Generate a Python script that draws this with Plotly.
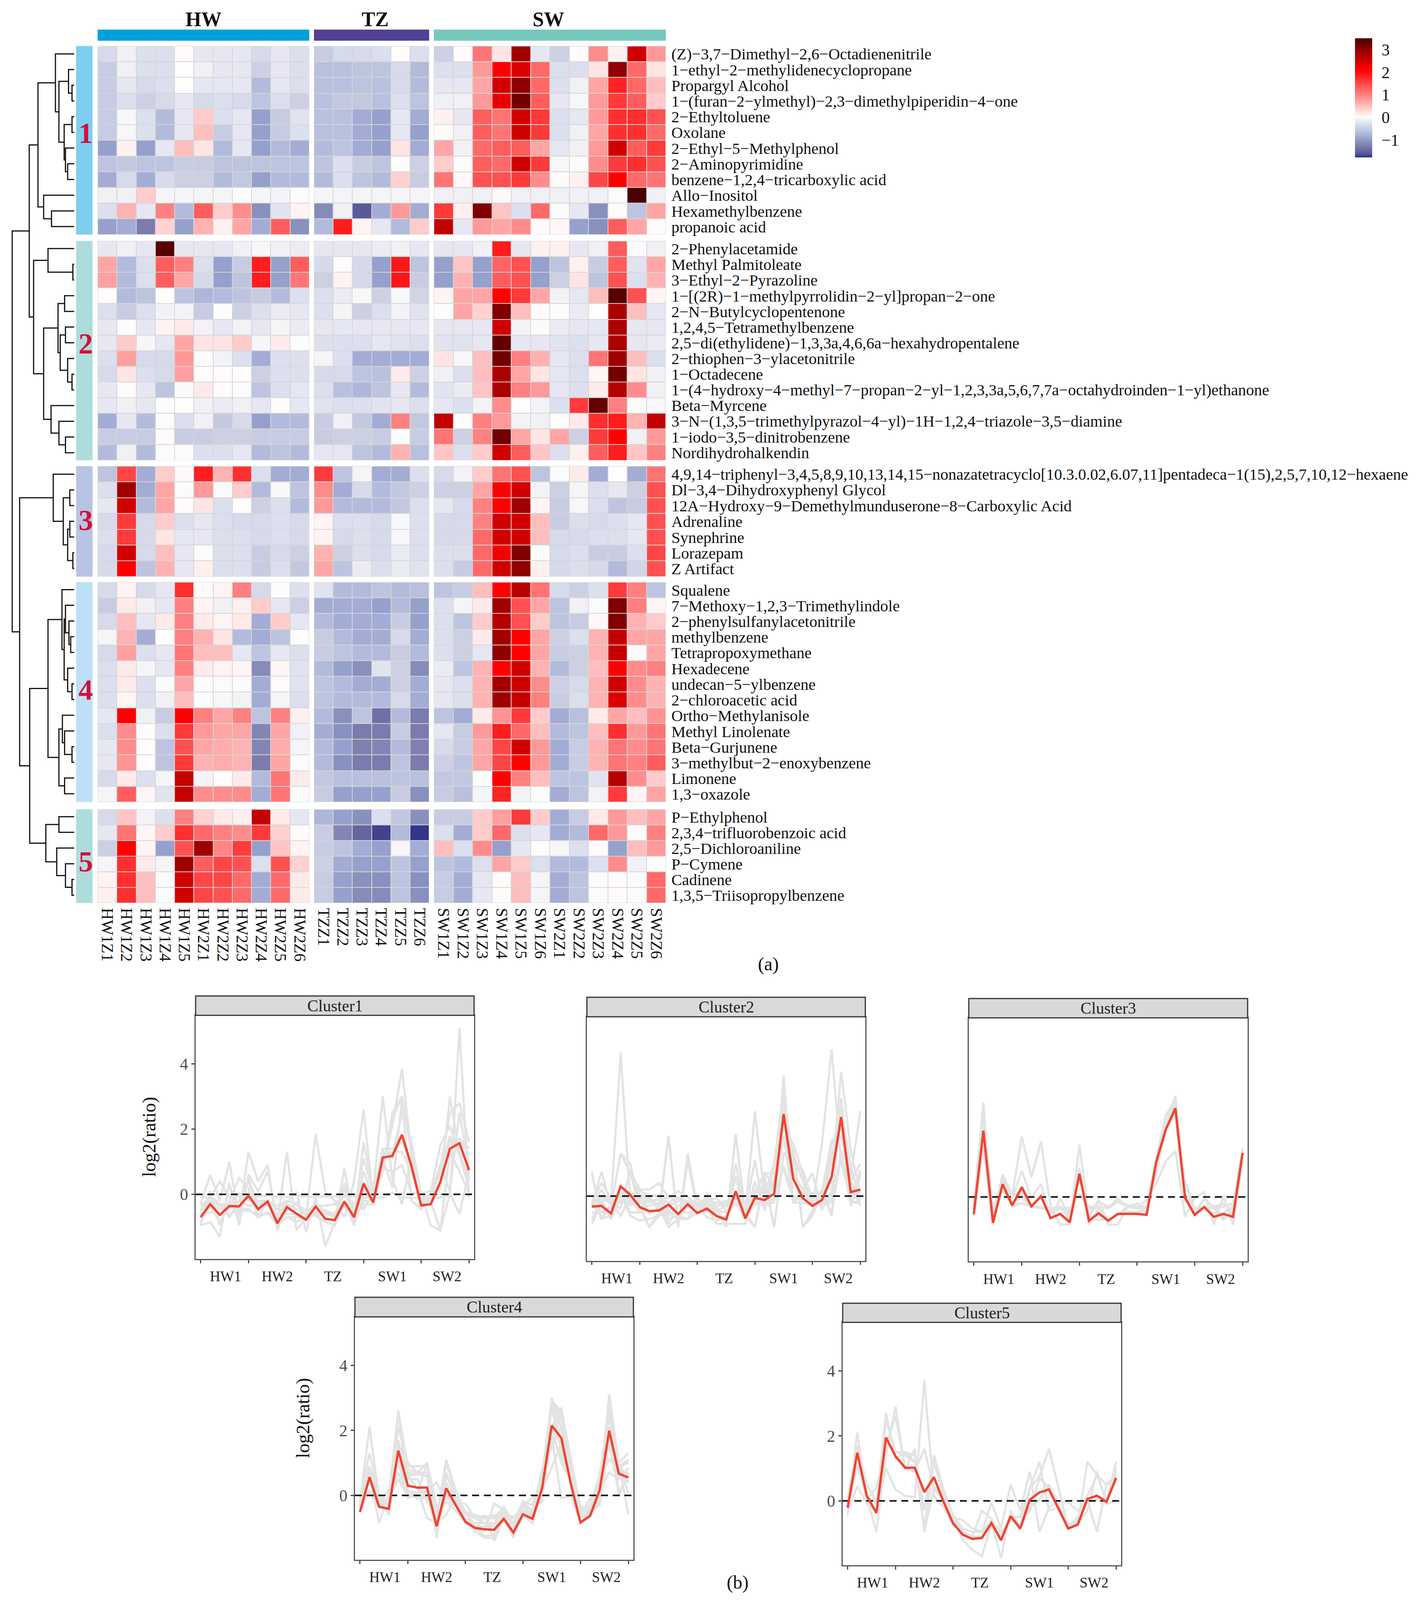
import plotly.graph_objects as go

W, H = 3639, 4381
FONT = "Liberation Serif"

hw_cols = ["HW1Z1","HW1Z2","HW1Z3","HW1Z4","HW1Z5","HW2Z1","HW2Z2","HW2Z3","HW2Z4","HW2Z5","HW2Z6"]
tz_cols = ["TZZ1","TZZ2","TZZ3","TZZ4","TZZ5","TZZ6"]
sw_cols = ["SW1Z1","SW1Z2","SW1Z3","SW1Z4","SW1Z5","SW1Z6","SW2Z1","SW2Z2","SW2Z3","SW2Z4","SW2Z5","SW2Z6"]

labels1 = ["(Z)−3,7−Dimethyl−2,6−Octadienenitrile","1−ethyl−2−methylidenecyclopropane","Propargyl Alcohol",
 "1−(furan−2−ylmethyl)−2,3−dimethylpiperidin−4−one","2−Ethyltoluene","Oxolane","2−Ethyl−5−Methylphenol",
 "2−Aminopyrimidine","benzene−1,2,4−tricarboxylic acid","Allo−Inositol","Hexamethylbenzene","propanoic acid"]
labels2 = ["2−Phenylacetamide","Methyl Palmitoleate","3−Ethyl−2−Pyrazoline","1−[(2R)−1−methylpyrrolidin−2−yl]propan−2−one",
 "2−N−Butylcyclopentenone","1,2,4,5−Tetramethylbenzene","2,5−di(ethylidene)−1,3,3a,4,6,6a−hexahydropentalene",
 "2−thiophen−3−ylacetonitrile","1−Octadecene","1−(4−hydroxy−4−methyl−7−propan−2−yl−1,2,3,3a,5,6,7,7a−octahydroinden−1−yl)ethanone",
 "Beta−Myrcene","3−N−(1,3,5−trimethylpyrazol−4−yl)−1H−1,2,4−triazole−3,5−diamine","1−iodo−3,5−dinitrobenzene","Nordihydrohalkendin"]
labels3 = ["4,9,14−triphenyl−3,4,5,8,9,10,13,14,15−nonazatetracyclo[10.3.0.02,6.07,11]pentadeca−1(15),2,5,7,10,12−hexaene",
 "Dl−3,4−Dihydroxyphenyl Glycol","12A−Hydroxy−9−Demethylmunduserone−8−Carboxylic Acid","Adrenaline","Synephrine","Lorazepam","Z Artifact"]
labels4 = ["Squalene","7−Methoxy−1,2,3−Trimethylindole","2−phenylsulfanylacetonitrile","methylbenzene","Tetrapropoxymethane",
 "Hexadecene","undecan−5−ylbenzene","2−chloroacetic acid","Ortho−Methylanisole","Methyl Linolenate","Beta−Gurjunene",
 "3−methylbut−2−enoxybenzene","Limonene","1,3−oxazole"]
labels5 = ["P−Ethylphenol","2,3,4−trifluorobenzoic acid","2,5−Dichloroaniline","P−Cymene","Cadinene","1,3,5−Triisopropylbenzene"]

cluster1 = [
 [-.35,-.1,-.3,-.3,.03,-.2,-.2,-.2,-.35,-.2,-.3, -.5,-.35,-.35,-.3,.02,-.3, -.45,.03,1.1,.2,2.9,-.2,-.45,.03,.9,.1,2.5,.8],
 [-.5,-.1,-.3,-.3,.02,-.1,-.2,-.2,-.45,-.2,-.3, -.65,-.65,-.6,-.6,-.35,-.7, -.3,-.3,.8,2.1,2.4,1.2,-.3,-.3,.2,3.0,1.2,.2],
 [-.5,-.2,-.35,-.3,.02,-.2,-.2,-.2,-.7,-.2,-.3, -.65,-.65,-.6,-.65,-.35,-.7, -.2,-.2,.7,2.5,3.0,1.2,-.3,-.1,.7,1.8,1.2,.5],
 [-.5,-.3,-.45,-.35,-.2,-.35,-.3,-.35,-.6,-.3,-.45, -.65,-.55,-.55,-.65,-.3,-.6, -.1,-.1,.8,2.3,3.2,1.3,-.2,-.05,.8,1.6,1.3,.4],
 [-.5,-.05,-.3,-.7,-.2,.4,-.3,-.2,-.95,-.5,-.25, -.65,-.65,-.85,-.95,-.2,-.85, .1,-.2,1.3,1.1,2.5,1.6,-.3,-.2,.8,1.7,1.7,1.4],
 [-.5,-.05,-.3,-.7,-.2,.5,-.5,-.2,-.95,-.5,-.3, -.65,-.65,-.85,-.95,-.2,-.95, .03,-.1,1.3,1.1,2.5,1.6,-.3,-.1,.7,1.7,1.7,1.2],
 [-.95,.1,-.95,-.2,.5,.2,-.7,-.2,-.95,-.7,-.85, -.7,-.6,-.85,-.95,.2,-.85, .7,-.1,1.2,1.3,1.3,.7,-.2,-.1,.8,2.5,1.3,1.6],
 [-.6,-.55,-.6,-.6,-.5,-.5,-.6,-.6,-.6,-.6,-.6, -.6,-.3,-.5,-.6,.02,-.45, .4,-.02,1.3,1.2,2.5,1.6,-.05,-.03,.9,1.6,1.7,1.4],
 [-.85,-.35,-.85,-.35,-.45,-.45,-.7,-.55,-.95,-.7,-.7, -.7,-.3,-.6,-.7,.35,-.5, 1.1,.05,1.4,1.4,1.6,.9,.03,.1,1.5,2.1,1.2,1.1],
 [-.1,-.1,.4,-.07,-.07,-.07,-.07,-.03,-.07,-.08,-.02, -.07,-.07,-.07,-.07,-.07,-.07, -.1,-.1,-.1,.05,-.1,-.1,-.1,-.1,-.1,-.03,3.5,-.1],
 [-.3,.6,-.2,1.0,-.7,1.3,.4,.9,-1.1,-.25,.08, -1.15,-.1,-1.6,-.85,.8,-.85, 1.6,.1,3.1,.45,-.3,1.2,-.02,-.2,-1.1,.03,-.6,.7],
 [-.95,-.85,-1.3,.35,-.95,.6,.1,.7,-.85,1.3,-1.1, -.7,1.85,.08,-.2,-.7,.4, 2.6,-.2,.8,.7,.9,.03,.06,-.95,-1.1,1.3,.7,.03],
]
cluster2 = [
 [-.2,-.1,-.2,3.4,-.2,-.2,-.2,-.1,-.05,-.1,-.15, -.2,-.2,-.2,-.15,-.1,-.2, -.2,-.2,-.1,1.85,-.2,.1,.1,-.2,-.1,1.3,-.03,-.1],
 [.7,-.7,-.3,1.3,1.0,-.3,-.95,-.5,1.85,-.95,1.3, -.35,.03,-.35,-.95,1.9,-.6, -.95,.45,-.95,1.25,1.4,-.95,-.6,.1,-.5,1.3,-.25,.7],
 [.75,-.7,-.3,1.3,.7,-.35,-.95,-.6,1.85,-.95,1.1, -.45,.08,-.35,-.95,1.9,-.5, -.95,.6,-.95,1.3,1.4,-.95,-.45,.2,-.6,1.4,-.3,.6],
 [.03,-.7,-.6,.02,-.6,-.75,-.7,-.6,-.5,-.7,-.3, -.3,-.15,-.05,-.45,-.05,-.4, .08,.7,.7,2.1,1.6,.7,-.08,-.2,.5,3.4,1.4,.08],
 [-.3,-.5,-.3,-.08,-.08,-.5,-.02,-.45,-.3,-.15,-.2, -.3,-.07,-.45,-.3,-.08,-.25, .02,.7,.35,3.1,.5,.03,-.02,-.15,.02,2.8,.5,-.2],
 [-.2,-.02,-.2,.08,.15,-.08,-.2,-.08,-.2,-.07,-.15, -.2,-.2,-.2,-.2,-.2,-.2, -.2,-.2,-.2,2.5,-.08,-.03,-.15,-.2,-.2,2.8,-.2,-.2],
 [-.2,.4,-.06,-.2,.7,.2,.2,.4,-.06,.15,-.02, -.3,-.3,-.3,-.2,-.25,-.3, -.25,-.25,-.2,3.3,-.2,-.2,-.25,-.3,-.2,2.8,-.2,-.15],
 [-.3,.75,-.35,-.35,.8,-.03,-.08,-.3,-.85,-.3,-.3, -.07,-.3,-.85,-.85,-.85,-.85, .2,-.05,.5,3.2,1.0,.6,-.2,-.3,1.1,2.9,.5,-.3],
 [-.35,.2,-.3,-.35,.75,.02,.03,.02,-.45,-.3,-.3, -.35,-.35,-.6,-.65,.15,-.45, -.1,-.3,.5,2.8,.7,.2,-.2,-.3,.06,3.2,.2,-.1],
 [-.2,.03,-.2,-.6,-.03,.15,.03,-.02,-.6,-.3,-.2, -.3,-.65,-.75,-.6,-.2,-.7, -.25,-.15,.45,2.8,1.0,.8,-.2,-.3,.15,2.7,.9,-.1],
 [-.2,-.1,-.2,-.02,.02,-.1,-.15,-.1,-.2,-.02,-.2, -.25,-.3,-.3,-.25,-.2,-.3, -.2,-.3,-.08,.9,.02,-.08,-.3,1.6,3.3,1.0,-.03,-.05],
 [-.85,-.2,-.7,-.03,-.3,-.1,-.55,-.35,-.95,-.7,-.7, -.5,-.1,-.55,-.85,1.0,-.55, 2.6,.03,1.0,.8,-.08,-.1,.02,.15,1.7,1.85,.6,2.6],
 [-.5,-.5,-.5,.03,-.5,-.5,-.45,-.45,-.5,-.5,-.5, -.5,-.45,-.45,-.5,-.02,-.5, 1.1,-.45,1.0,3.2,.7,.2,.7,-.45,1.6,2.1,-.1,.8],
 [-.7,-.1,-.7,-.03,-.02,-.3,-.3,-.2,-.7,-.6,-.7, -.2,-.2,-.6,-.7,.6,-.65, .45,-.3,.4,2.5,1.3,.45,-.3,.1,1.3,1.85,.45,1.0],
]
cluster3 = [
 [-.6,1.5,-.85,.4,.05,1.85,.6,1.7,-.3,-.85,-.85, 1.6,-.6,-.07,-.85,-.85,-.3, -.35,-.08,.4,1.1,1.4,-.6,-.03,.15,-.85,.02,-.85,1.1],
 [-.3,2.9,-.85,.7,-.03,.8,-.03,.4,-.7,-.05,-.6, .9,-.85,-.35,-.7,-.55,-.45, -.45,-.45,.7,2.1,2.5,-.08,-.45,-.07,-.3,-.2,-.45,1.4],
 [-.2,2.5,-.7,.7,.03,.2,-.3,.02,-.45,-.3,-.7, .8,-.7,-.7,-.7,-.55,-.3, -.2,-.35,1.0,2.1,2.9,.08,-.5,-.05,-.3,-.6,-.5,1.4],
 [-.35,1.6,-.35,.4,-.3,-.2,-.3,-.35,-.35,-.3,-.35, .08,-.3,-.3,-.35,-.05,-.3, -.35,-.35,1.0,2.5,2.5,.5,-.5,-.3,-.35,-.3,-.2,1.4],
 [-.3,1.6,-.35,.2,-.2,-.2,-.3,-.3,-.35,-.3,-.35, .08,-.35,-.3,-.35,-.05,-.3, -.35,-.35,1.2,2.5,2.5,.5,-.35,-.35,-.3,-.3,-.2,1.4],
 [-.35,2.5,-.35,.5,-.2,-.03,-.3,-.3,-.5,-.35,-.45, .6,-.45,-.3,-.35,-.15,-.3, -.3,-.3,1.2,2.2,3.1,-.02,-.35,-.3,-.5,-.5,-.3,1.5],
 [-.35,2.1,-.6,.6,-.2,.1,-.3,-.3,-.5,-.3,-.55, .7,-.6,-.15,-.3,-.15,-.25, -.3,-.5,1.2,2.5,3.0,.1,-.35,-.3,-.35,-.7,-.4,1.4],
]
cluster4 = [
 [-.35,.08,-.35,-.2,1.7,.03,.08,1.0,-.35,-.02,-.3, -.25,-.7,-.7,-.6,-.7,-.65, -.6,-.5,.5,2.1,2.7,1.1,-.35,-.45,-.3,1.6,1.0,-.6],
 [-.5,.15,-.1,-.2,1.0,.08,-.1,.1,.4,-.2,-.45, -.85,-.85,-.85,-.95,-.7,-.95, -.3,-.07,.15,2.9,1.4,.7,-.6,-.1,-.03,3.1,1.0,.07],
 [-.35,.5,-.2,.15,1.0,.15,.08,.15,-.85,.4,-.2, -.7,-.85,-.85,-.85,-.5,-.95, -.3,-.6,.4,2.7,1.4,.4,-.6,-.5,.06,3.1,.6,.4],
 [-.07,.6,-.85,.02,1.0,.6,.2,-.7,-.85,-.6,.02, -.5,-.7,-.85,-.85,-.35,-.85, -.3,-.45,.15,2.9,2.1,.7,-.45,-.3,.6,2.6,.7,.7],
 [-.35,.75,-.3,-.2,1.1,.5,.5,-.2,-.6,-.2,-.3, -.5,-.6,-.7,-.7,-.5,-.7, -.3,-.45,-.2,3.0,2.1,.7,-.5,-.45,.6,2.6,-.03,.7],
 [-.3,.15,-.07,-.2,1.0,.15,.08,.07,-1.15,.07,-.25, -.7,-.95,-1.1,-.25,-.45,-1.15, -.15,-.6,.6,2.1,2.5,.6,-.7,-.45,.5,2.1,.9,1.0],
 [-.3,.15,-.3,-.03,.7,-.02,-.03,-.02,-.85,.03,-.25, -.6,-.7,-.85,-.85,-.45,-.85, -.2,-.3,.6,2.9,2.5,.9,-.45,-.35,.6,2.5,.9,.6],
 [-.3,.07,-.3,-.1,.5,-.02,-.05,-.08,-.85,-.07,-.3, -.6,-.7,-.7,-.7,-.35,-.85, -.2,-.3,.6,2.9,2.6,1.0,-.5,-.3,.6,2.4,.9,.6],
 [-.2,2.1,-.1,-.5,2.1,1.0,.7,1.0,-.6,1.0,.1, -.7,-1.1,-.6,-1.4,-.7,-1.3, -.6,-.85,.15,.85,1.6,.4,-.85,-.65,.15,.7,.5,.85],
 [-.3,.9,-.02,-.3,1.6,.8,.7,.7,-1.2,.7,-.1, -.85,-1.1,-1.3,-1.3,-.5,-1.3, -.2,-.5,.8,1.85,1.2,.5,-.7,-.6,.5,1.7,.8,1.1],
 [-.2,.9,.02,-.6,1.4,.7,.65,.6,-1.2,.65,-.07, -.7,-.95,-1.25,-1.2,-.7,-1.25, -.35,-.5,.7,1.5,2.5,.8,-.85,-.5,.6,1.1,.9,1.1],
 [-.2,.85,.02,-.6,1.6,.6,.65,.6,-1.3,.7,-.03, -.7,-1.1,-1.3,-1.3,-.6,-1.3, -.45,-.6,.7,1.5,2.1,.8,-.85,-.5,.6,1.1,1.0,1.3],
 [-.35,.15,-.3,-.07,2.6,-.08,.02,.15,-.7,1.1,.15, -.55,-.65,-.65,-.65,-.6,-.65, -.55,-.55,.02,2.1,1.0,.5,-.6,-.6,-.25,2.7,.9,.4],
 [-.07,1.3,.07,-.25,2.6,.9,.9,.9,-.85,1.1,.03, -.5,-.95,-.95,-.95,-.5,-1.1, -.5,-.65,-.07,1.8,-.08,-.02,-.85,-.6,-.08,1.6,.08,.7],
]
cluster5 = [
 [-.35,.45,-.08,-.3,1.0,.35,.15,.12,2.6,.15,-.2, -.75,-.95,-1.1,-.3,-.55,-1.1, -.5,-.5,.4,.75,1.6,.4,-.85,-.5,.15,.8,.5,.7],
 [-.2,1.1,.06,.4,1.7,1.2,1.0,.9,1.6,.35,.03, -.5,-1.2,-1.5,-1.7,-.7,-1.75, -.3,-.85,.4,1.2,-.3,-.2,-.85,-.7,1.2,.8,-.03,1.0],
 [-.45,2.1,.08,-.95,1.4,2.9,.95,1.6,-.95,.45,.08, -.5,-.6,-.85,-.95,-.05,-.85, .5,-.3,.9,-.95,-.2,-.02,-.05,-.3,.02,-.95,.5,.8],
 [-.07,1.7,.15,-.07,2.9,1.3,1.5,1.4,-.3,1.4,.35, -.45,-.85,-.95,-.95,-.6,-.95, -.6,-.7,-.3,.7,.4,-.3,-.7,-.7,-.3,.9,-.1,.02],
 [.08,1.7,.5,-.03,2.5,1.5,1.5,1.2,-.85,1.2,.15, -.5,-.95,-1.1,-1.1,-.6,-1.1, -.5,-.85,-.2,.03,.5,-.07,-.85,-.6,-.03,.03,-.03,1.2],
 [.1,1.7,.5,-.03,2.5,1.5,1.4,1.2,-.85,1.2,.15, -.5,-.95,-1.15,-1.15,-.6,-1.1, -.5,-.85,-.2,.03,.5,-.07,-.85,-.6,-.03,.03,-.03,1.2],
]

# values that run past the heat map's colour limit: (row, column, value)
peaks1 = [(9,27,5.1),(1,21,3.85),(3,21,3.0),(10,19,3.0),(6,27,2.8)]
peaks2 = [(0,3,4.4),(10,25,4.5),(3,26,3.8),(6,20,3.7),(8,26,3.0)]
peaks3 = []
peaks4 = []
peaks5 = [(0,8,3.7),(3,4,2.7),(1,5,2.6)]

mean1 = [-.7,-.3,-.63,-.36,-.37,-.04,-.45,-.22,-.89,-.39,-.59,-.78,-.37,-.75,-.79,-.22,-.7,.33,-.25,1.13,1.18,1.83,.86,-.34,-.3,.38,1.4,1.57,.74]
mean2 = [-.32,-.3,-.53,.3,.04,-.34,-.46,-.44,-.26,-.55,-.25,-.52,-.38,-.61,-.72,.15,-.68,-.05,-.12,.07,2.51,.53,-.06,-.3,-.12,.59,2.42,.12,.2]
mean3 = [-.53,2.03,-.79,.39,-.26,.3,-.29,.02,-.65,-.52,-.78,.71,-.73,-.5,-.73,-.52,-.52,-.52,-.55,1.07,2.07,2.72,-.02,-.55,-.31,-.61,-.52,-.61,1.35]
mean4 = [-.51,.56,-.35,-.41,1.38,.3,.24,.24,-.95,.22,-.3,-.81,-1.0,-1.04,-1.06,-.72,-1.14,-.58,-.72,.22,2.15,1.77,.35,-.83,-.63,.16,1.99,.67,.55]
mean5 = [-.21,1.48,.15,-.37,1.95,1.37,1.02,1.02,.27,.73,-.03,-.69,-1.04,-1.17,-1.14,-.68,-1.21,-.47,-.85,.04,.26,.35,-.24,-.85,-.73,.06,.16,-.03,.71]

group_labels = ["HW1","HW2","TZ","SW1","SW2"]
group_label_pos = [2.6,8,13.8,20,25.7]
group_edges = [0,5,11,17,23,28]
y_ticks = [0,2,4]

# hierarchical clustering of the 53 rows: (height, left, right); integers are rows
b1 = (83,(43,0,(35,(13,1,(5,2,3)),(23,(5,4,5),(20,6,(15,7,8))))),(70,9,(52,10,11)))
b2 = (93,(60,12,(3,13,14)),(70,(37,(22,15,16),(32,(20,17,18),(15,19,(5,20,21)))),(53,22,(35,23,(20,24,25)))))
b3 = (48,26,(25,(10,27,28),(15,(10,29,30),(3,31,32))))
b4 = (60,(28,33,(23,(20,34,(12,35,(8,36,37))),(15,38,(5,39,40)))),(35,(27,41,(22,42,(5,43,44))),(22,45,46)))
b5 = (65,(35,47,48),(40,49,(20,50,(5,51,52))))
tree = (142,(103,b1,b2),(125,b3,(102,b4,b5)))

blocks = [cluster1,cluster2,cluster3,cluster4,cluster5]
block_labels = [labels1,labels2,labels3,labels4,labels5]
for bl, lb in zip(blocks, block_labels):
    assert len(bl) == len(lb)
    for r in bl:
        assert len(r) == 29, r

# ------------- layout in figure pixels -------------
def fx(a, b): return [a / W, b / W]
def fy(top, bottom): return [1 - bottom / H, 1 - top / H]

col_spans = [(250,792,0,11,hw_cols),(804,1099,11,17,tz_cols),(1111,1705,17,29,sw_cols)]
row_spans = [(123,640),(657.5,1259),(1275,1578),(1593,2196),(2216,2473)]
block_gap_rows = [0,.4,.77,1.12,1.58]

ZMIN, ZMAX = -1.78, 3.5
stops = [(-1.78,"#2e2e85"),(-1.6,"#5a5a9a"),(-1.25,"#8080b0"),(-1,"#8e9cc8"),(-.85,"#a3acd5"),(-.65,"#b8c0de"),
         (-.45,"#cdd0e3"),(-.3,"#dcdfee"),(-.1,"#f0f0f5"),(0,"#ffffff"),(.1,"#fff0f0"),(1,"#ff8080"),(2.1,"#ff0000"),
         (2.5,"#d00000"),(2.9,"#a00000"),(3.1,"#800000"),(3.5,"#4a0000")]
cscale = [[(v-ZMIN)/(ZMAX-ZMIN), c] for v, c in stops]

fig = go.Figure()
layout = {}
shapes = []
ann = []
n = 1
for bi, (bl, lb) in enumerate(zip(blocks, block_labels)):
    top, bottom = row_spans[bi]
    for gi, (x0, x1, c0, c1, names) in enumerate(col_spans):
        n += 1
        xa, ya = f"x{n}", f"y{n}"
        last_b, last_g = bi == 4, gi == 2
        tr = go.Heatmap(z=[r[c0:c1] for r in bl], x=names, y=lb, xaxis=xa, yaxis=ya, zmin=ZMIN, zmax=ZMAX,
                        colorscale=cscale, xgap=2, ygap=2, hoverinfo="skip", showscale=(n == 2))
        if n == 2:
            tr.colorbar = dict(x=3470/W, xanchor="left", y=1-102/H, yanchor="top", thickness=44, thicknessmode="pixels",
                               len=327/H, lenmode="fraction", xpad=0, ypad=0, outlinewidth=0, tickmode="array",
                               tickvals=[-1,0,1,2,3], ticktext=["−1","0","1","2","3"], ticks="outside", ticklen=16,
                               tickcolor="rgba(0,0,0,0)", tickfont=dict(family=FONT, size=42, color="#111"))
        fig.add_trace(tr)
        layout[f"xaxis{n}"] = dict(domain=fx(x0,x1), anchor=ya, type="category", range=[-.5,len(names)-.5], showgrid=False,
                                   zeroline=False, showline=False, showticklabels=last_b, ticks="outside" if last_b else "",
                                   ticklen=3, tickcolor="rgba(0,0,0,0)", tickangle=90, tickmode="array",
                                   tickvals=names, ticktext=names,
                                   tickfont=dict(family=FONT, size=42, color="#111"))
        layout[f"yaxis{n}"] = dict(domain=fy(top,bottom), anchor=xa, type="category", range=[len(lb)-.5,-.5], showgrid=False,
                                   zeroline=False, showline=False, side="right", showticklabels=last_g,
                                   ticks="outside" if last_g else "", ticklen=5, tickcolor="rgba(0,0,0,0)", tickmode="array",
                                   tickvals=lb, ticktext=lb,
                                   tickfont=dict(family=FONT, size=41, color="#111"))
        shapes.append(dict(type="rect", xref=f"{xa} domain", yref=f"{ya} domain", x0=0, x1=1, y0=0, y1=1,
                           fillcolor="#d6d6d6", line_width=0, layer="below"))

# annotation strips
def paper_rect(x0, x1, top, bottom, fill, line=None, lw=0):
    d = dict(type="rect", xref="paper", yref="paper", x0=x0/W, x1=x1/W, y0=1-bottom/H, y1=1-top/H,
             fillcolor=fill, line_width=lw, layer="above")
    if line: d["line_color"] = line
    return d

def text(x, y, s, size, color="#111", bold=False, angle=0):
    ann.append(dict(x=x/W, y=1-y/H, xref="paper", yref="paper", text=f"<b>{s}</b>" if bold else s, showarrow=False,
                    xanchor="center", yanchor="middle", textangle=angle, font=dict(family=FONT, size=size, color=color)))

for (x0, x1, _, _, _), col, name in zip(col_spans, ["#00a0dc","#524097","#76c7bc"], ["HW","TZ","SW"]):
    shapes.append(paper_rect(x0, x1, 78, 108.5, col))
    text({"HW":521,"TZ":960,"SW":1404}[name], 50, name, 52, bold=True)
side_cols = ["#7fcef0","#aedcdc","#b8c4e4","#bce0f8","#aedcdc"]
num_y = [362,939,1424,1888,2360]
for i, ((t, b), c) in enumerate(zip(row_spans, side_cols)):
    shapes.append(paper_rect(195, 237, t, b, c))
    text(219, num_y[i], str(i+1), 74, color="#d0103a", bold=True)

text(1967, 2640, "(a)", 48)
text(1889, 4336, "(b)", 48)

# dendrogram
row_pos = []
k = 0
for bi, bl in enumerate(blocks):
    for _ in bl:
        row_pos.append(k + .5 + block_gap_rows[bi])
        k += 1
dx, dy = [], []
def walk(node):
    if isinstance(node, int):
        return 0, row_pos[node]
    h, a, b = node
    ha, ya = walk(a)
    hb, yb = walk(b)
    dx.extend([ha, h, h, hb, None])
    dy.extend([ya, ya, yb, yb, None])
    return h, (ya + yb) / 2
walk(tree)
n += 1
fig.add_trace(go.Scatter(x=dx, y=dy, mode="lines", line=dict(color="#111", width=3), xaxis=f"x{n}", yaxis=f"y{n}",
                         hoverinfo="skip", showlegend=False))
layout[f"xaxis{n}"] = dict(domain=fx(0,190), range=[170,0], visible=False, anchor=f"y{n}")
layout[f"yaxis{n}"] = dict(domain=fy(123,2473), range=[len(row_pos)+block_gap_rows[-1],0], visible=False, anchor=f"x{n}")

# cluster line panels: left, right, strip top, plot top, plot bottom, show y axis
panels = [(501,1214,2728,2781,3449,True),(1503,2216,2731.5,2785,3454,False),(2481,3195,2735,2788,3456,False),
          (909,1622,3554,3608,4274,True),(2158,2871,3570.5,3623,4289,True)]
means = [mean1,mean2,mean3,mean4,mean5]
peak_lists = [peaks1,peaks2,peaks3,peaks4,peaks5]
xs = list(range(29))
for pi, ((l, r, st, pt, pb, show_y), m, pk, bl) in enumerate(zip(panels, means, peak_lists, blocks)):
    n += 1
    xa, ya = f"x{n}", f"y{n}"
    rows = [list(v) for v in bl]
    for ri, ci, val in pk:
        rows[ri][ci] = val
    for v in rows:
        fig.add_trace(go.Scatter(x=xs, y=v, mode="lines", line=dict(color="#e3e3e3", width=5.5), xaxis=xa, yaxis=ya,
                                 hoverinfo="skip", showlegend=False))
    fig.add_trace(go.Scatter(x=[-.52,28.52], y=[0,0], mode="lines", line=dict(color="#111", width=4, dash="18px,12px"),
                             xaxis=xa, yaxis=ya, hoverinfo="skip", showlegend=False))
    fig.add_trace(go.Scatter(x=xs, y=m, mode="lines", line=dict(color="#ee4530", width=6), xaxis=xa, yaxis=ya,
                             hoverinfo="skip", showlegend=False))
    layout[f"xaxis{n}"] = dict(domain=fx(l,r), anchor=ya, range=[-.52,28.52], showgrid=False, zeroline=False, showline=True,
                               mirror=True, linecolor="#555", linewidth=2.5, tickmode="array", tickvals=group_label_pos,
                               ticktext=group_labels, ticks="outside", ticklen=10, tickcolor="rgba(0,0,0,0)",
                               tickfont=dict(family=FONT, size=37, color="#222"),
                               minor=dict(tickmode="array", tickvals=group_edges, ticks="outside", ticklen=8,
                                          tickcolor="#444", tickwidth=2.5, showgrid=False))
    layout[f"yaxis{n}"] = dict(domain=fy(pt,pb), anchor=xa, range=[-1.98,5.49], showgrid=False, zeroline=False, showline=True,
                               mirror=True, linecolor="#555", linewidth=2.5, tickmode="array", tickvals=y_ticks,
                               showticklabels=show_y, ticks="outside" if show_y else "", ticklen=8, tickwidth=2.5,
                               tickcolor="#444", tickfont=dict(family=FONT, size=42, color="#4d4d4d"))
    shapes.append(paper_rect(l, r, st, pt, "#d9d9d9", "#333", 3))
    text((l+r)/2, (st+pt)/2, f"Cluster{pi+1}", 42, color="#222")
    if pi == 0:
        text(382, 3115, "log2(ratio)", 48, angle=-90)
    if pi == 3:
        text(776, 3886, "log2(ratio)", 48, angle=-90)

fig.update_layout(margin=dict(l=0,r=0,t=0,b=0), paper_bgcolor="white", plot_bgcolor="white",
                  shapes=shapes, annotations=ann, showlegend=False, autosize=True, **layout)
fig.write_html("out.html", config=dict(displayModeBar=False, responsive=True), default_width="100vw", default_height="100vh",
               post_script="document.documentElement.style.overflow='hidden';document.body.style.margin='0';window.dispatchEvent(new Event('resize'));")
